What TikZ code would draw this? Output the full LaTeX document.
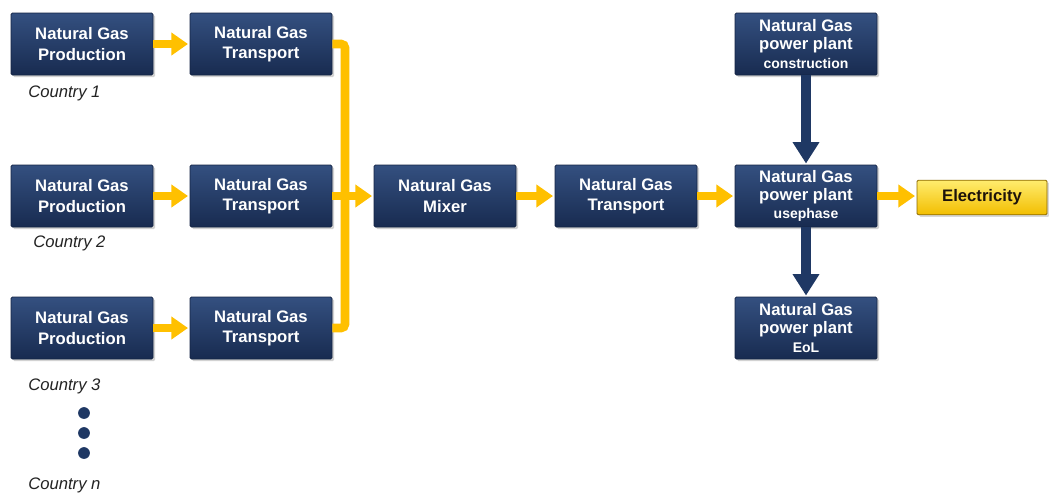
\documentclass[tikz,border=0pt]{standalone}
\usepackage{fontspec}
\setmainfont{Liberation Sans}
\usetikzlibrary{arrows.meta,shadows}

\definecolor{navy}{RGB}{31,56,100}
\definecolor{navytop}{RGB}{52,80,128}
\definecolor{navybot}{RGB}{24,43,80}
\definecolor{navyedge}{RGB}{20,36,68}
\definecolor{gold}{RGB}{255,192,0}
\definecolor{elecTop}{RGB}{255,236,110}
\definecolor{elecBot}{RGB}{242,190,0}
\definecolor{elecEdge}{RGB}{140,105,0}
\definecolor{labelgray}{RGB}{35,35,35}

\newcommand{\phase}[1]{{\fontsize{10.5}{11}\selectfont #1}}

\tikzset{
  stagebox/.style={rectangle, rounded corners=1pt, minimum width=106.5pt,
    minimum height=46.5pt, inner sep=0pt, align=center, text=white,
    font=\bfseries\fontsize{12.5}{15.3}\selectfont,
    top color=navytop, bottom color=navybot, draw=navyedge, line width=0.6pt,
    drop shadow={shadow xshift=1.6pt, shadow yshift=-1.6pt, opacity=0.35}},
  plantbox/.style={stagebox, font=\bfseries\fontsize{12.5}{13.6}\selectfont},
  elecbox/.style={rectangle, rounded corners=1pt, minimum width=97.5pt,
    minimum height=26pt, inner sep=0pt, text=black!85!brown,
    font=\bfseries\fontsize{12.5}{14}\selectfont,
    top color=elecTop, bottom color=elecBot, draw=elecEdge, line width=0.6pt,
    drop shadow={shadow xshift=1.6pt, shadow yshift=-1.6pt, opacity=0.3}},
  country/.style={anchor=west, inner sep=0pt, text=labelgray,
    font=\itshape\fontsize{12.5}{14}\selectfont},
  dotmark/.style={circle, fill=navy, minimum size=8.8pt, inner sep=0pt},
  yflow/.style={draw=gold, line width=6.5pt, shorten >=1.2pt,
    -{Triangle[length=12.5pt,width=16.5pt]}},
  yline/.style={draw=gold, line width=6.5pt, rounded corners=3pt},
  bflow/.style={draw=navy, line width=7.5pt, shorten >=0.8pt,
    -{Triangle[length=16pt,width=19pt]}},
}

\begin{document}
\begin{tikzpicture}[x=0.75pt, y=-0.75pt]
  \useasboundingbox[fill=white] (0,0) rectangle (1049,494);

  % supply chains per country
  \node[stagebox] (p1) at (82,44)  {Natural Gas\\Production};
  \node[stagebox] (t1) at (261,44) {Natural Gas\\Transport};
  \node[stagebox] (p2) at (82,196) {Natural Gas\\Production};
  \node[stagebox] (t2) at (261,196) {Natural Gas\\Transport};
  \node[stagebox] (p3) at (82,328) {Natural Gas\\Production};
  \node[stagebox] (t3) at (261,328) {Natural Gas\\Transport};

  % mixing and onward transport
  \node[stagebox] (mix) at (445,196) {Natural Gas\\Mixer};
  \node[stagebox] (t4)  at (626,196) {Natural Gas\\Transport};

  % power plant life cycle
  \node[plantbox] (con) at (806,44)  {Natural Gas\\power plant\\\phase{construction}};
  \node[plantbox] (use) at (806,196) {Natural Gas\\power plant\\\phase{usephase}};
  \node[plantbox] (eol) at (806,328) {Natural Gas\\power plant\\\phase{EoL}};
  \node[elecbox]  (ele) at (982,197.5) {Electricity};

  % country labels
  \node[country] (c1) at (28,93)  {Country 1};
  \node[country] (c2) at (33,243) {Country 2};
  \node[country] (c3) at (28,386) {Country 3};
  \node[dotmark] (d1) at (84,413) {};
  \node[dotmark] (d2) at (84,433) {};
  \node[dotmark] (d3) at (84,453) {};
  \node[country] (cn) at (28,485) {Country n};

  % gas flows
  \draw[yflow] (p1.east) -- (t1.west);
  \draw[yflow] (p2.east) -- (t2.west);
  \draw[yflow] (p3.east) -- (t3.west);
  \coordinate (bus) at (345,196);
  \draw[yline] (t1.east) -| (bus) |- (t3.east);
  \draw[yflow] (t2.east) -- (mix.west);
  \draw[yflow] (mix.east) -- (t4.west);
  \draw[yflow] (t4.east) -- (use.west);
  \draw[yflow] (use.east) -- (use.east -| ele.west);

  % plant life cycle links
  \draw[bflow] (con.south) -- (use.north);
  \draw[bflow] (use.south) -- (eol.north);
\end{tikzpicture}
\end{document}
